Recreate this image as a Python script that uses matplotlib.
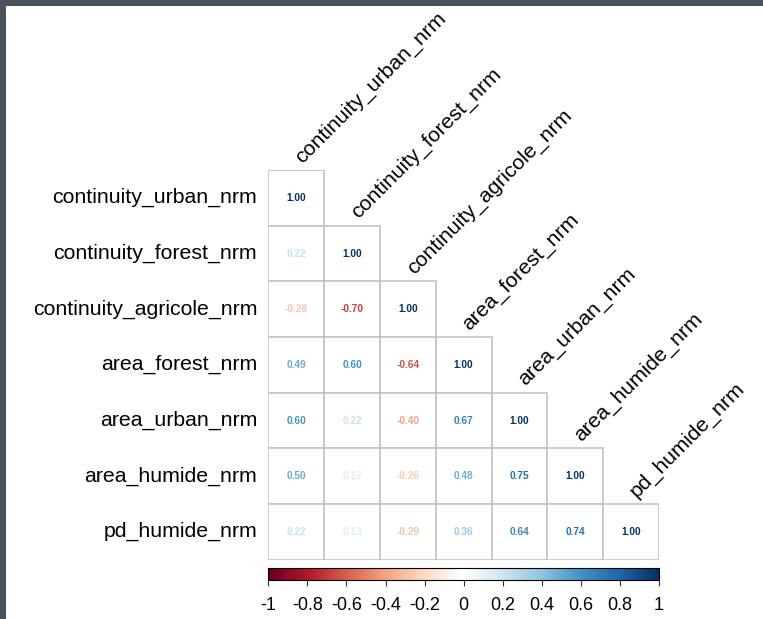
import numpy as np
import matplotlib.pyplot as plt
from matplotlib.colors import LinearSegmentedColormap
from matplotlib.patches import Rectangle

plt.rcParams['font.family'] = ['Liberation Sans', 'DejaVu Sans']

# variables and lower-triangle correlations (row i holds columns 0..i)
labels = ["continuity_urban_nrm", "continuity_forest_nrm", "continuity_agricole_nrm",
          "area_forest_nrm", "area_urban_nrm", "area_humide_nrm", "pd_humide_nrm"]
corr_rows = [
    [1.00],
    [0.22, 1.00],
    [-0.28, -0.70, 1.00],
    [0.49, 0.60, -0.64, 1.00],
    [0.60, 0.22, -0.40, 0.67, 1.00],
    [0.50, 0.12, -0.26, 0.48, 0.75, 1.00],
    [0.22, 0.13, -0.29, 0.36, 0.64, 0.74, 1.00],
]
cbar_ticks = [-1, -0.8, -0.6, -0.4, -0.2, 0, 0.2, 0.4, 0.6, 0.8, 1]
cbar_ticklabels = ["-1", "-0.8", "-0.6", "-0.4", "-0.2", "0", "0.2", "0.4", "0.6", "0.8", "1"]

# corrplot's RdBu palette
rdbu = ["#67001F", "#B2182B", "#D6604D", "#F4A582", "#FDDBC7", "#FFFFFF",
        "#D1E5F0", "#92C5DE", "#4393C3", "#2166AC", "#053061"]
cmap = LinearSegmentedColormap.from_list("corr_rdbu", rdbu, N=200)

W, H = 763, 619
fig = plt.figure(figsize=(W / 100, H / 100), dpi=100, facecolor="#4d5159")
# white screenshot area
bg = fig.add_axes([6 / W, 0, 1 - 6 / W, 1 - 6 / H])
bg.set_facecolor("white")
bg.set_xticks([])
bg.set_yticks([])
for s in bg.spines.values():
    s.set_visible(False)

def px_axes(x0, y0, x1, y1):
    return fig.add_axes([x0 / W, 1 - y1 / H, (x1 - x0) / W, (y1 - y0) / H])

n = len(labels)
ax = px_axes(268.3, 170, 659, 559.7)
ax.set_xlim(0, n)
ax.set_ylim(n, 0)
ax.axis("off")

for i, row in enumerate(corr_rows):
    for j, v in enumerate(row):
        ax.add_patch(Rectangle((j, i), 1, 1, facecolor="white",
                               edgecolor="#c4c4c4", linewidth=1.2))
        ax.text(j + 0.5, i + 0.5, f"{v:.2f}", ha="center", va="center",
                fontsize=7.3, fontweight="bold", color=cmap((v + 1) / 2))
    ax.text(-0.2, i + 0.5, labels[i], ha="right", va="center", fontsize=15.3,
            color="black", clip_on=False)
    ax.text(i + 0.66, i - 0.06, labels[i], ha="left", va="bottom", fontsize=15.3,
            rotation=45, rotation_mode="anchor", color="black", clip_on=False)

# colour legend
cax = px_axes(268.3, 568, 659, 580)
grad = np.linspace(-1, 1, 400).reshape(1, -1)
cax.imshow(grad, cmap=cmap, vmin=-1, vmax=1, aspect="auto", extent=[-1, 1, 0, 1])
cax.set_xlim(-1, 1)
cax.set_yticks([])
cax.set_xticks(cbar_ticks)
cax.set_xticklabels(cbar_ticklabels, fontsize=13)
cax.tick_params(axis="x", length=4, width=0.8, pad=8, color="#333333")
for s in cax.spines.values():
    s.set_linewidth(0.8)

fig.savefig("out.png", dpi=100, facecolor=fig.get_facecolor())
